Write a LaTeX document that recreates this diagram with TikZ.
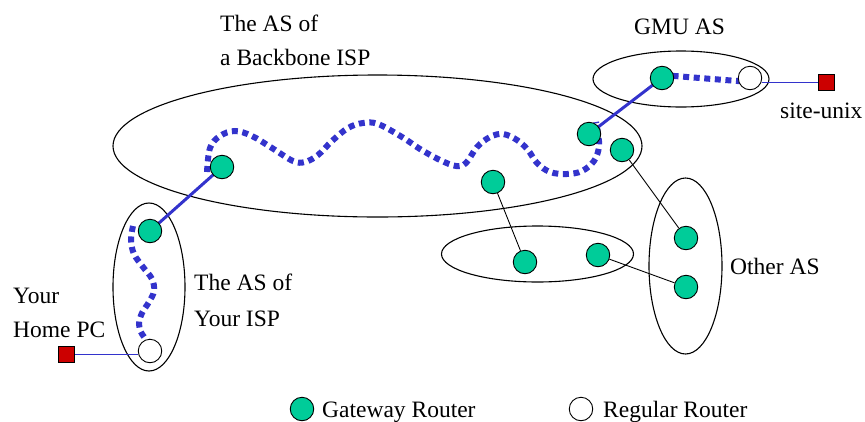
\documentclass[tikz,border=0pt]{standalone}
\usepackage{fontspec}
\setmainfont{Liberation Serif}
\usetikzlibrary{calc}
\pgfdeclarelayer{background}
\pgfsetlayers{background,main}
\definecolor{gwgreen}{RGB}{0,204,153}
\definecolor{pathblue}{RGB}{51,51,204}
\definecolor{hostred}{RGB}{204,0,0}
\tikzset{
  gateway/.style={circle,draw=black,line width=0.9pt,fill=gwgreen,minimum size=23.5pt,inner sep=0pt},
  regular/.style={circle,draw=black,line width=0.9pt,fill=white,minimum size=23.5pt,inner sep=0pt},
  host/.style={rectangle,draw=black,line width=0.8pt,fill=hostred,minimum size=16pt,inner sep=0pt},
  asarea/.style={draw=black,line width=1.1pt},
  link/.style={draw=black,line width=0.9pt},
  solidroute/.style={draw=pathblue,line width=3pt},
  dotroute/.style={draw=pathblue,line width=6pt,dash pattern=on 6pt off 4.6pt},
  hostlink/.style={draw=pathblue,line width=0.9pt},
  lbl/.style={font=\fontsize{23.5}{28}\selectfont,inner sep=0pt,anchor=base west}
}
\begin{document}
\begin{tikzpicture}[x=1pt,y=-1pt]
\useasboundingbox (0,0) rectangle (865,421);
% routers
\node[gateway] (G1) at (222,167) {};
\node[gateway] (G2) at (150,231) {};
\node[gateway] (G3) at (589,134) {};
\node[gateway] (G4) at (622,150) {};
\node[gateway] (G5) at (493,182) {};
\node[gateway] (G6) at (662,78) {};
\node[gateway] (G7) at (525,262) {};
\node[gateway] (G8) at (598,255) {};
\node[gateway] (G9) at (686,238) {};
\node[gateway] (G10) at (686,287) {};
\node[regular] (R1) at (150,351) {};
\node[regular] (R2) at (750,78) {};
\node[host] (pc) at (66,354) {};
\node[host] (unix) at (826,82) {};
\begin{pgfonlayer}{background}
% AS areas
\draw[asarea] (377.5,146) ellipse [x radius=264.5, y radius=71];
\draw[asarea] (149,287) ellipse [x radius=36, y radius=84];
\draw[asarea] (681,79) ellipse [x radius=88, y radius=28];
\draw[asarea] (537.5,254) ellipse [x radius=96, y radius=28];
\draw[asarea] (685.5,266) ellipse [x radius=36.5, y radius=88];
% connectors
\path[link] (G5) -- (G7);
\path[link] (G4) -- (G9);
\path[link] (G8) -- (G10);
\path[hostlink] (pc.east) -- (pc.east -| R1.west);
\path[hostlink] (R2.east |- unix.west) -- (unix.west);
\path[dotroute] plot[smooth,tension=0.6] coordinates {(133,226) (131,240) (134,254) (143,267) (152,279) (154,291) (149,302) (142,313) (139,324) (142,334) (151,345)};
\path[dotroute] plot[smooth,tension=0.6] coordinates {(207,172) (210,148) (220,136) (235,131) (252,136) (272,148) (293,161) (305,162) (318,155) (332,141) (348,128) (363,123) (378,124) (402,137) (420,149) (440,160) (456,166) (466,163) (477,147) (490,137) (503,134) (517,140) (528,150) (537,163) (550,172) (567,174) (582,171) (594,161) (599,147) (598,134) (596,122)};
\path[dotroute] ($(G6)+(0,-3)$) -- ($(R2)+(0,4)$);
\path[solidroute] (G2.center) -- (G1.center);
\path[solidroute] (G3.center) -- (G6.center);
\end{pgfonlayer}
% labels
\node[lbl] (bb1) at (220,31) {The AS of};
\node[lbl] (bb2) at (220,65) {a Backbone ISP};
\node[lbl] (gmu) at (634,34) {GMU AS};
\node[lbl] (su) at (780,118) {site-unix};
\node[lbl] (isp1) at (194,290) {The AS of};
\node[lbl] (isp2) at (194,326) {Your ISP};
\node[lbl] (home1) at (13,303) {Your};
\node[lbl] (home2) at (13,337) {Home PC};
\node[lbl] (oth) at (730,274) {Other AS};
% legend
\node[gateway] (lg) at (302,409) {};
\node[lbl] (lgt) at (322,417) {Gateway Router};
\node[regular] (lr) at (581,409) {};
\node[lbl] (lrt) at (603,417) {Regular Router};
\end{tikzpicture}
\end{document}
